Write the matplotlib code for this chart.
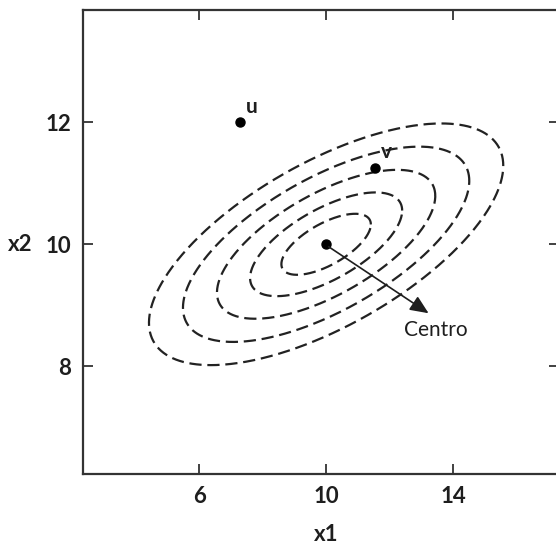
import numpy as np
import matplotlib
matplotlib.use("Agg")
import matplotlib.pyplot as plt

# contour levels (Mahalanobis-type radii) and covariance shape
levels = [0.5, 0.85, 1.22, 1.6, 1.98]
sd_x1 = 2.82
sd_x2 = 1.0
rho = 0.65
center = (10.0, 10.0)

# labelled points
pt_names = ["u", "v"]
pt_x1 = [7.3, 11.55]
pt_x2 = [12.0, 11.25]

arrow_end = (13.23, 8.87)
centro_pos = (13.45, 8.59)

xticks = [6, 10, 14]
yticks = [8, 10, 12]

plt.rcParams['font.family'] = ['Lato', 'DejaVu Sans']
ink = '#1e1e1e'

fig = plt.figure(figsize=(5.56, 5.44), dpi=100)
ax = fig.add_axes([0.1498, 0.1287, 0.855, 0.853])

cov = np.array([[sd_x1**2, rho*sd_x1*sd_x2], [rho*sd_x1*sd_x2, sd_x2**2]])
L = np.linalg.cholesky(cov)
t = np.linspace(0, 2*np.pi, 500)
circ = np.vstack([np.cos(t), np.sin(t)])
for c in levels:
    e = c * (L @ circ)
    ax.plot(center[0] + e[0], center[1] + e[1], color='#222222', lw=1.6,
            dashes=(5.5, 2.6))

ax.plot([center[0]], [center[1]], 'o', color='black', ms=6.5)
ax.plot(pt_x1, pt_x2, 'o', color='black', ms=6.5, linestyle='none')
for name, x, y in zip(pt_names, pt_x1, pt_x2):
    ax.annotate(name, (x, y), xytext=(4, 4), textcoords='offset points',
                fontsize=15, fontweight='bold', color=ink, ha='left', va='bottom')

ax.annotate('', xy=arrow_end, xytext=(center[0] + 0.08, center[1] - 0.04),
            arrowprops=dict(arrowstyle='-|>,head_length=0.8,head_width=0.35',
                            mutation_scale=14, lw=1.2, color=ink,
                            shrinkA=0, shrinkB=0))
ax.text(centro_pos[0], centro_pos[1], 'Centro', fontsize=15, color=ink,
        ha='center', va='center')

ax.set_xlim(2.346, 17.33)
ax.set_ylim(6.236, 13.84)
ax.set_xticks(xticks)
ax.set_yticks(yticks)
ax.tick_params(direction='in', length=7.5, width=1.3, color='#333333',
               top=True, right=True, labelsize=16, labelcolor=ink, pad=9)
for lab in ax.get_xticklabels() + ax.get_yticklabels():
    lab.set_fontweight('bold')
for s in ax.spines.values():
    s.set_linewidth(1.6)
    s.set_color('#333333')

ax.set_xlabel('x1', fontsize=16, fontweight='bold', color=ink, va='center')
ax.set_ylabel('x2', fontsize=16, fontweight='bold', color=ink, rotation=0,
              ha='right', va='center')
ax.xaxis.set_label_coords(0.511, -0.13)
ax.yaxis.set_label_coords(-0.106, (10 - 6.236) / (13.84 - 6.236))

fig.savefig('out.png', dpi=100)
